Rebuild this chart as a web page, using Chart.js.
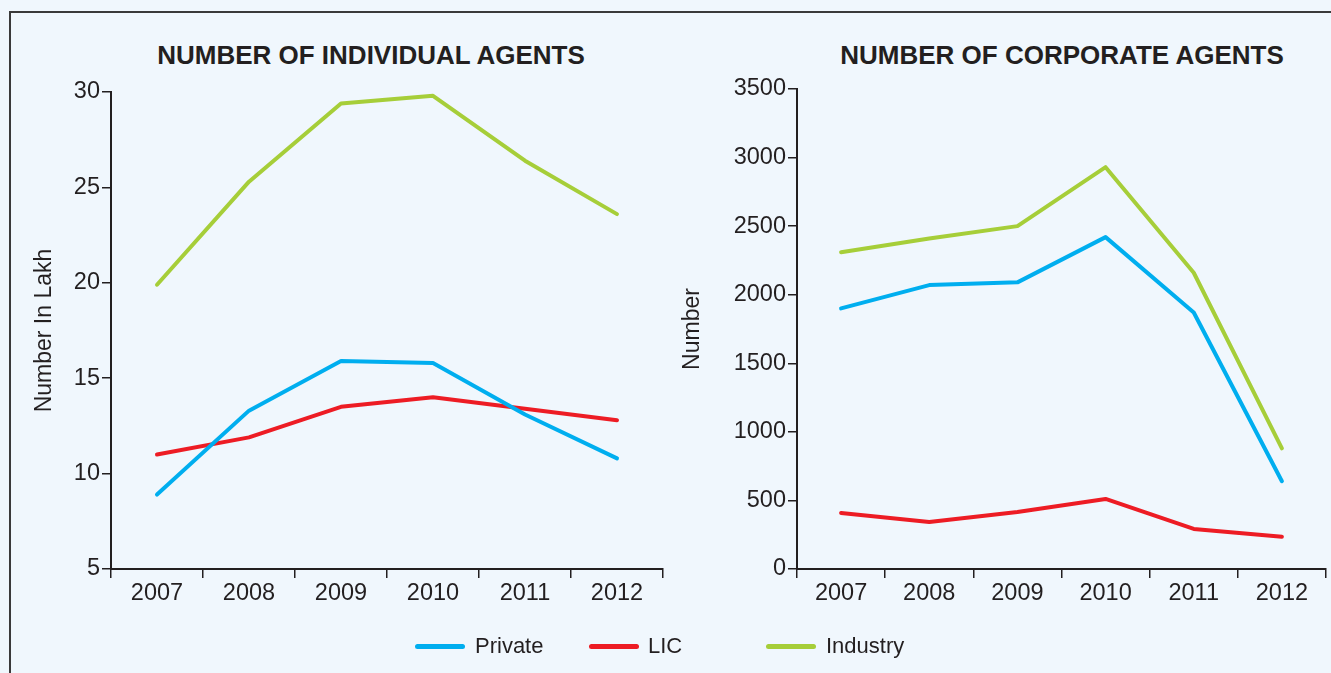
<!DOCTYPE html>
<html>
<head>
<meta charset="utf-8">
<script src="https://cdn.jsdelivr.net/npm/chart.js@4.4.1/dist/chart.umd.min.js"></script>
<style>
  html, body { margin:0; padding:0; }
  body { width:1331px; height:673px; background:#f0f7fd; position:relative; overflow:hidden;
         font-family:"Liberation Sans", Arial, sans-serif; color:#231f20; }
  #frame { position:absolute; left:9px; top:11px; width:1340px; height:700px; border:2px solid #3a3a3a; box-sizing:border-box; }
  canvas { position:absolute; top:0; }
  #c1 { left:0; }
  #c2 { left:660px; }
  .title { position:absolute; top:55px; transform:translate(-50%,-50%); font-weight:bold; font-size:26px; line-height:1; white-space:nowrap; }
  .leg-line { position:absolute; height:5px; border-radius:3px; top:644px; }
  .leg-text { position:absolute; top:646px; transform:translateY(-50%); font-size:22px; line-height:1; white-space:nowrap; }
</style>
</head>
<body>
<div id="frame"></div>
<div class="title" style="left:371px">NUMBER OF INDIVIDUAL AGENTS</div>
<div class="title" style="left:1062px">NUMBER OF CORPORATE AGENTS</div>
<canvas id="c1" width="680" height="673"></canvas>
<canvas id="c2" width="671" height="673"></canvas>
<div id="legend"></div>
<script>
const years = ['2007','2008','2009','2010','2011','2012'];
const seriesNames = ['Private','LIC','Industry'];
const seriesColors = ['#00aeef','#ed1c24','#a6ce39'];

// Number of individual agents (in lakh)
const indivPrivate  = [8.9, 13.3, 15.9, 15.8, 13.1, 10.8];
const indivLIC      = [11.0, 11.9, 13.5, 14.0, 13.4, 12.8];
const indivIndustry = [19.9, 25.3, 29.4, 29.8, 26.4, 23.6];

// Number of corporate agents
const corpPrivate  = [1900, 2070, 2090, 2420, 1870, 640];
const corpLIC      = [408, 343, 416, 511, 292, 236];
const corpIndustry = [2310, 2410, 2500, 2930, 2160, 880];

const leftTicks  = {min:5, max:30, step:5};
const rightTicks = {min:0, max:3500, step:500};

const ink = '#231f20';
const fontFam = '"Liberation Sans", Arial, sans-serif';
const tickSize = 23.5;

function makeDatasets(arrs){
  return arrs.map((d,i)=>({
    label: seriesNames[i], data: d, borderColor: seriesColors[i], backgroundColor: seriesColors[i],
    borderWidth: 4, pointRadius: 0, tension: 0, borderCapStyle:'round', borderJoinStyle:'round', fill:false
  }));
}

function makeChart(id, arrs, tk, yTitle, yWidth, titlePad, pad){
  return new Chart(document.getElementById(id), {
    type:'line',
    data:{ labels: years, datasets: makeDatasets(arrs) },
    options:{
      responsive:false, animation:false,
      layout:{ padding: pad },
      plugins:{ legend:{display:false}, tooltip:{enabled:false}, title:{display:false} },
      scales:{
        x:{
          offset:true,
          grid:{ offset:true, drawOnChartArea:false, drawTicks:true, tickLength:9, color:ink, lineWidth:1.5 },
          border:{ display:true, color:ink, width:2 },
          ticks:{ color:ink, font:{family:fontFam, size:tickSize}, padding:1, maxRotation:0 },
          afterFit(s){ s.height = 40; }
        },
        y:{
          min: tk.min, max: tk.max,
          grid:{ drawOnChartArea:false, drawTicks:true, tickLength:9, color:ink, lineWidth:1.5 },
          border:{ display:true, color:ink, width:2 },
          ticks:{ stepSize: tk.step, color:ink, font:{family:fontFam, size:tickSize}, padding:2,
                  callback:(v)=>String(v) },
          title:{ display:true, text:yTitle, color:ink, font:{family:fontFam, size:23}, padding:{top:titlePad, bottom:0} },
          afterFit(s){ s.width = yWidth; }
        }
      }
    }
  });
}

makeChart('c1', [indivPrivate, indivLIC, indivIndustry], leftTicks, 'Number In Lakh', 111, 31,
          {top:92, right:17, bottom:64, left:0});
makeChart('c2', [corpPrivate, corpLIC, corpIndustry], rightTicks, 'Number', 137, 19,
          {top:89, right:5, bottom:64, left:0});

// legend
const legPos = [[415, 475], [589, 648], [766, 826]];
const leg = document.getElementById('legend');
seriesNames.forEach((n,i)=>{
  const l = document.createElement('div');
  l.className = 'leg-line';
  l.style.left = legPos[i][0] + 'px';
  l.style.width = '50px';
  l.style.background = seriesColors[i];
  leg.appendChild(l);
  const t = document.createElement('div');
  t.className = 'leg-text';
  t.style.left = legPos[i][1] + 'px';
  t.textContent = n;
  leg.appendChild(t);
});
</script>
</body>
</html>
